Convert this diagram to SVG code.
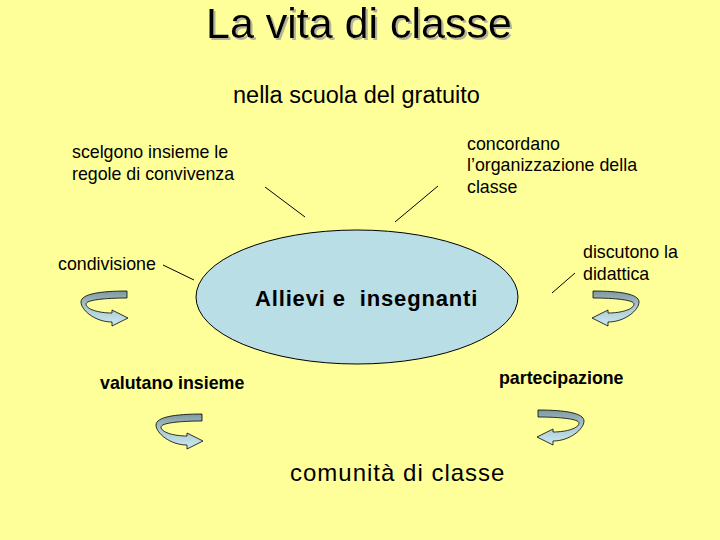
<svg xmlns="http://www.w3.org/2000/svg" width="720" height="540" viewBox="0 0 720 540">
<defs>
<style>
text{font-family:"Liberation Sans",Arial,sans-serif;fill:#000}
.t{font-size:17.8px}
.b{font-size:17.8px;font-weight:bold}
.c{stroke:#000;stroke-width:1;fill:none}
.arr{fill:url(#g);stroke:#000;stroke-width:0.8}
</style>
<filter id="sh" x="-5%" y="-20%" width="110%" height="140%">
<feDropShadow dx="2" dy="2" stdDeviation="0.4" flood-color="#b4b49a" flood-opacity="1"/>
</filter>
<linearGradient id="g" x1="0" y1="0" x2="0" y2="1">
<stop offset="0" stop-color="#7f989f"/>
<stop offset="0.45" stop-color="#a9c8d0"/>
<stop offset="1" stop-color="#cdeaf1"/>
</linearGradient>
<path id="ua" d="M127,291 C100,291 81,294 81,302 C81,310 95,322 112,322 L112,326 L128,318 L112,310 L112,313 C98,313 86,309 86,304 C86,300 105,298 127,298 Z"/>
</defs>
<rect width="720" height="540" fill="#FFFF99"/>
<g id="title">
<text x="206" y="38" font-size="43" filter="url(#sh)">La vita di classe</text>
</g>
<g id="subtitle"><text x="233" y="103" font-size="23.5">nella scuola del gratuito</text></g>
<g id="connectors">
<line class="c" x1="265" y1="187" x2="305" y2="217"/>
<line class="c" x1="395" y1="222" x2="438" y2="186"/>
<line class="c" x1="163" y1="265" x2="194" y2="280"/>
<line class="c" x1="552" y1="293" x2="575" y2="273"/>
</g>
<g id="center">
<ellipse cx="357" cy="297" rx="161" ry="67" fill="#B9DEE6" stroke="#000" stroke-width="1"/>
<text x="255" y="306" font-size="22" font-weight="bold" letter-spacing="0.85" xml:space="preserve">Allievi e  insegnanti</text>
</g>
<g id="n-scelgono"><text class="t" x="72" y="158">scelgono insieme le</text><text class="t" x="72" y="180">regole di convivenza</text></g>
<g id="n-concordano"><text class="t" x="467" y="150">concordano</text><text class="t" x="467" y="171">l’organizzazione della</text><text class="t" x="467" y="193">classe</text></g>
<g id="n-condivisione"><text class="t" x="58" y="270">condivisione</text></g>
<g id="n-discutono"><text class="t" x="583" y="258">discutono la</text><text class="t" x="583" y="280">didattica</text></g>
<g id="n-valutano"><text class="b" x="100" y="389">valutano insieme</text></g>
<g id="n-partecipazione"><text class="b" x="499" y="384">partecipazione</text></g>
<g id="n-comunita"><text x="290" y="481" font-size="24" letter-spacing="1">comunità di classe</text></g>
<g id="arrows">
<use href="#ua" class="arr"/>
<use href="#ua" class="arr" transform="translate(720,0) scale(-1,1)"/>
<use href="#ua" class="arr" transform="translate(75,123)"/>
<use href="#ua" class="arr" transform="translate(665,119) scale(-1,1)"/>
</g>
</svg>
